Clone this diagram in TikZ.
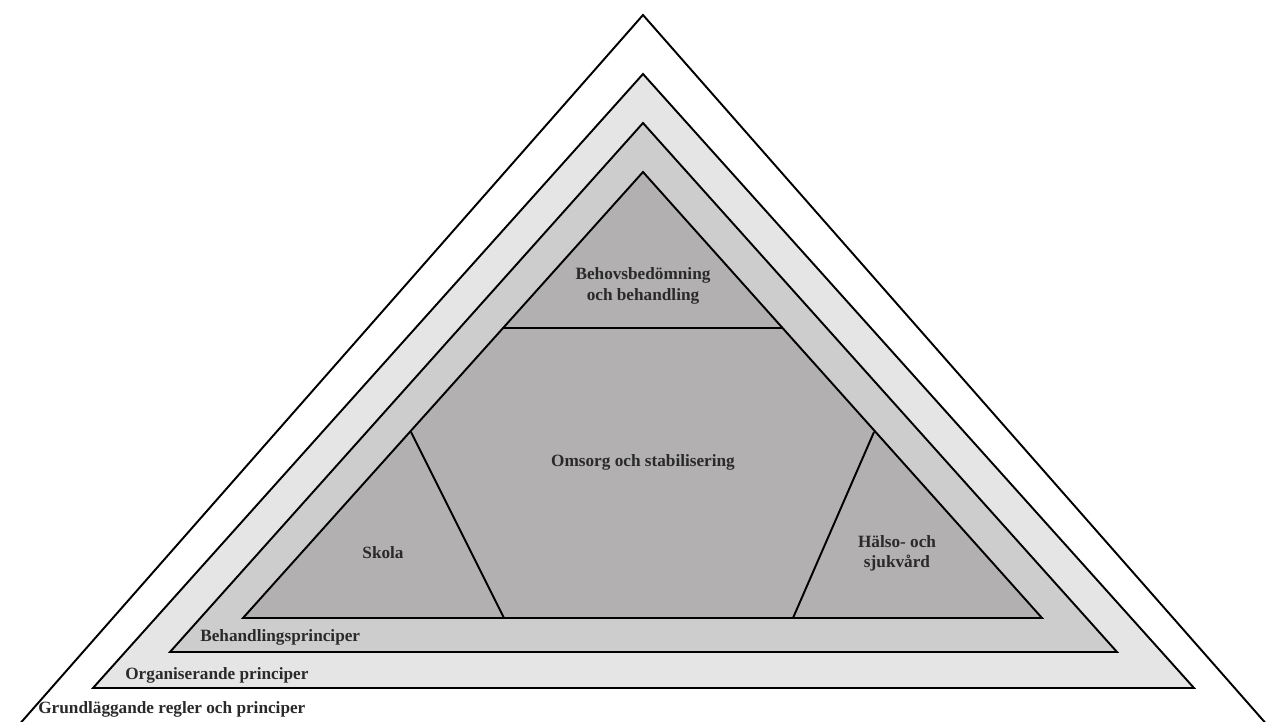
\documentclass[tikz,border=0pt]{standalone}
\usepackage{fontspec}
\setmainfont{Liberation Serif}
\definecolor{bandA}{HTML}{E6E5E5}
\definecolor{bandB}{HTML}{CECDCD}
\definecolor{core}{HTML}{B2B0B0}
\definecolor{txt}{HTML}{2A2A2A}
\begin{document}
\begin{tikzpicture}[x=0.02cm,y=-0.02cm,
  edge/.style={line width=1.1pt,line join=miter},
  lbl/.style={font=\bfseries\fontsize{9.8}{11.5}\selectfont,text=txt,align=center,inner sep=0pt}]
\useasboundingbox (0,0) rectangle (1275,722);
\begin{scope}
\clip (0,0) rectangle (1275,722);
% outermost triangle (cut by bottom edge)
\draw[edge] (10,735) -- (643,15) -- (1276,735);
% second triangle
\filldraw[edge,fill=bandA] (93,688) -- (643,74) -- (1194,688) -- cycle;
% third triangle
\filldraw[edge,fill=bandB] (170,652) -- (643,123) -- (1117,652) -- cycle;
% inner triangle
\filldraw[edge,fill=core] (243,618) -- (643,172) -- (1042,618) -- cycle;
% inner subdivisions
\coordinate (tl) at (503,328);
\coordinate (tr) at (783,328);
\coordinate (sl) at (411,432);
\coordinate (sb) at (504,618);
\coordinate (hr) at (874,432);
\coordinate (hb) at (793,618);
\draw[edge] (tl) -- (tr);
\draw[edge] (sl) -- (sb);
\draw[edge] (hr) -- (hb);
\end{scope}
% labels
\node[lbl,anchor=west] (grund) at (38,709) {Grundläggande regler och principer};
\node[lbl,anchor=west] (org) at (125,675) {Organiserande principer};
\node[lbl,anchor=west] (beh) at (200,637) {Behandlingsprinciper};
\node[lbl] (behov) at (643,286) {Behovsbedömning\\och behandling};
\node[lbl] (omsorg) at (643,462) {Omsorg och stabilisering};
\node[lbl] (skola) at (383,553) {Skola};
\node[lbl] (halso) at (897,553) {Hälso- och\\sjukvård};
\end{tikzpicture}
\end{document}
